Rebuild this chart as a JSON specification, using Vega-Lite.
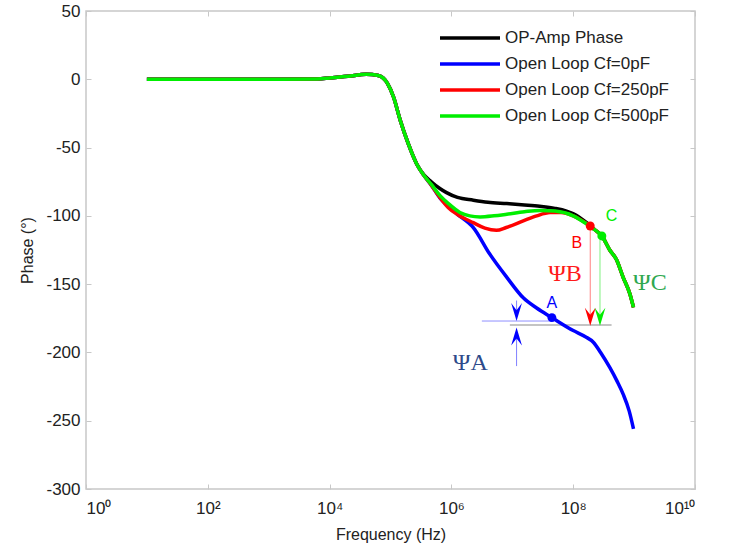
{
  "$schema": "https://vega.github.io/schema/vega-lite/v6.json",
  "width": 609,
  "height": 478,
  "autosize": {"type": "none"},
  "padding": {"left": 86, "top": 11, "right": 46, "bottom": 61},
  "background": "white",
  "config": {
    "font": "Liberation Sans",
    "view": {"stroke": "#c8c8c8", "strokeWidth": 1.5},
    "axis": {
      "grid": false,
      "domainColor": "#c8c8c8",
      "domainWidth": 1.5,
      "tickColor": "#c8c8c8",
      "tickWidth": 1,
      "tickSize": -5,
      "labelFont": "Liberation Sans",
      "labelFontSize": 17,
      "labelColor": "#222222",
      "titleFont": "Liberation Sans",
      "titleFontSize": 16,
      "titleFontWeight": "normal",
      "titleColor": "#222222"
    }
  },
  "datasets": {
    "curves": [
      {"series": "OP-Amp Phase", "f": 10, "phase": 0},
      {"series": "OP-Amp Phase", "f": 100, "phase": 0},
      {"series": "OP-Amp Phase", "f": 1000, "phase": 0},
      {"series": "OP-Amp Phase", "f": 6310, "phase": 0.3},
      {"series": "OP-Amp Phase", "f": 10000, "phase": 1},
      {"series": "OP-Amp Phase", "f": 19950, "phase": 2.2},
      {"series": "OP-Amp Phase", "f": 39810, "phase": 3.7},
      {"series": "OP-Amp Phase", "f": 63100, "phase": 2.8},
      {"series": "OP-Amp Phase", "f": 89130, "phase": -3},
      {"series": "OP-Amp Phase", "f": 112200, "phase": -13},
      {"series": "OP-Amp Phase", "f": 144500, "phase": -30},
      {"series": "OP-Amp Phase", "f": 195000, "phase": -47},
      {"series": "OP-Amp Phase", "f": 269200, "phase": -62},
      {"series": "OP-Amp Phase", "f": 354800, "phase": -70},
      {"series": "OP-Amp Phase", "f": 467700, "phase": -75},
      {"series": "OP-Amp Phase", "f": 645700, "phase": -80},
      {"series": "OP-Amp Phase", "f": 831800, "phase": -83},
      {"series": "OP-Amp Phase", "f": 1259000, "phase": -86.5},
      {"series": "OP-Amp Phase", "f": 2291000, "phase": -88.5},
      {"series": "OP-Amp Phase", "f": 3981000, "phase": -90},
      {"series": "OP-Amp Phase", "f": 8128000, "phase": -91},
      {"series": "OP-Amp Phase", "f": 15850000, "phase": -92},
      {"series": "OP-Amp Phase", "f": 28180000, "phase": -93},
      {"series": "OP-Amp Phase", "f": 50120000, "phase": -94.5},
      {"series": "OP-Amp Phase", "f": 77620000, "phase": -96.5},
      {"series": "OP-Amp Phase", "f": 112200000, "phase": -99.5},
      {"series": "OP-Amp Phase", "f": 166000000, "phase": -105},
      {"series": "OP-Amp Phase", "f": 223900000, "phase": -110},
      {"series": "OP-Amp Phase", "f": 295100000, "phase": -114.7},
      {"series": "OP-Amp Phase", "f": 398100000, "phase": -125},
      {"series": "OP-Amp Phase", "f": 512900000, "phase": -132},
      {"series": "OP-Amp Phase", "f": 660700000, "phase": -145},
      {"series": "OP-Amp Phase", "f": 851100000, "phase": -157},
      {"series": "OP-Amp Phase", "f": 977200000, "phase": -167},

      {"series": "Open Loop Cf=0pF", "f": 10, "phase": 0},
      {"series": "Open Loop Cf=0pF", "f": 100, "phase": 0},
      {"series": "Open Loop Cf=0pF", "f": 1000, "phase": 0},
      {"series": "Open Loop Cf=0pF", "f": 6310, "phase": 0.3},
      {"series": "Open Loop Cf=0pF", "f": 10000, "phase": 1},
      {"series": "Open Loop Cf=0pF", "f": 19950, "phase": 2.2},
      {"series": "Open Loop Cf=0pF", "f": 39810, "phase": 3.7},
      {"series": "Open Loop Cf=0pF", "f": 63100, "phase": 2.8},
      {"series": "Open Loop Cf=0pF", "f": 89130, "phase": -3},
      {"series": "Open Loop Cf=0pF", "f": 112200, "phase": -13},
      {"series": "Open Loop Cf=0pF", "f": 144500, "phase": -30},
      {"series": "Open Loop Cf=0pF", "f": 195000, "phase": -47},
      {"series": "Open Loop Cf=0pF", "f": 269200, "phase": -62},
      {"series": "Open Loop Cf=0pF", "f": 354800, "phase": -70.5},
      {"series": "Open Loop Cf=0pF", "f": 467700, "phase": -77.5},
      {"series": "Open Loop Cf=0pF", "f": 645700, "phase": -86.8},
      {"series": "Open Loop Cf=0pF", "f": 891300, "phase": -93},
      {"series": "Open Loop Cf=0pF", "f": 1230000, "phase": -98.5},
      {"series": "Open Loop Cf=0pF", "f": 2291000, "phase": -108.6},
      {"series": "Open Loop Cf=0pF", "f": 4266000, "phase": -128},
      {"series": "Open Loop Cf=0pF", "f": 8128000, "phase": -145},
      {"series": "Open Loop Cf=0pF", "f": 15140000, "phase": -160},
      {"series": "Open Loop Cf=0pF", "f": 25120000, "phase": -167.5},
      {"series": "Open Loop Cf=0pF", "f": 44670000, "phase": -174.5},
      {"series": "Open Loop Cf=0pF", "f": 100000000, "phase": -184},
      {"series": "Open Loop Cf=0pF", "f": 158500000, "phase": -188.5},
      {"series": "Open Loop Cf=0pF", "f": 213800000, "phase": -192.5},
      {"series": "Open Loop Cf=0pF", "f": 281800000, "phase": -200},
      {"series": "Open Loop Cf=0pF", "f": 398100000, "phase": -211},
      {"series": "Open Loop Cf=0pF", "f": 524800000, "phase": -221},
      {"series": "Open Loop Cf=0pF", "f": 660700000, "phase": -230.5},
      {"series": "Open Loop Cf=0pF", "f": 831800000, "phase": -243},
      {"series": "Open Loop Cf=0pF", "f": 977200000, "phase": -256},

      {"series": "Open Loop Cf=250pF", "f": 10, "phase": 0},
      {"series": "Open Loop Cf=250pF", "f": 100, "phase": 0},
      {"series": "Open Loop Cf=250pF", "f": 1000, "phase": 0},
      {"series": "Open Loop Cf=250pF", "f": 6310, "phase": 0.3},
      {"series": "Open Loop Cf=250pF", "f": 10000, "phase": 1},
      {"series": "Open Loop Cf=250pF", "f": 19950, "phase": 2.2},
      {"series": "Open Loop Cf=250pF", "f": 39810, "phase": 3.7},
      {"series": "Open Loop Cf=250pF", "f": 63100, "phase": 2.8},
      {"series": "Open Loop Cf=250pF", "f": 89130, "phase": -3},
      {"series": "Open Loop Cf=250pF", "f": 112200, "phase": -13},
      {"series": "Open Loop Cf=250pF", "f": 144500, "phase": -30},
      {"series": "Open Loop Cf=250pF", "f": 195000, "phase": -47},
      {"series": "Open Loop Cf=250pF", "f": 269200, "phase": -62},
      {"series": "Open Loop Cf=250pF", "f": 354800, "phase": -70.5},
      {"series": "Open Loop Cf=250pF", "f": 467700, "phase": -77.5},
      {"series": "Open Loop Cf=250pF", "f": 645700, "phase": -86.5},
      {"series": "Open Loop Cf=250pF", "f": 891300, "phase": -94},
      {"series": "Open Loop Cf=250pF", "f": 1259000, "phase": -99},
      {"series": "Open Loop Cf=250pF", "f": 2291000, "phase": -105},
      {"series": "Open Loop Cf=250pF", "f": 3548000, "phase": -109},
      {"series": "Open Loop Cf=250pF", "f": 5495000, "phase": -110.6},
      {"series": "Open Loop Cf=250pF", "f": 7943000, "phase": -108.5},
      {"series": "Open Loop Cf=250pF", "f": 15140000, "phase": -103.7},
      {"series": "Open Loop Cf=250pF", "f": 25120000, "phase": -100},
      {"series": "Open Loop Cf=250pF", "f": 41690000, "phase": -97.6},
      {"series": "Open Loop Cf=250pF", "f": 63100000, "phase": -97.5},
      {"series": "Open Loop Cf=250pF", "f": 100000000, "phase": -100},
      {"series": "Open Loop Cf=250pF", "f": 141300000, "phase": -103.5},
      {"series": "Open Loop Cf=250pF", "f": 190500000, "phase": -107.4},
      {"series": "Open Loop Cf=250pF", "f": 223900000, "phase": -110},
      {"series": "Open Loop Cf=250pF", "f": 295100000, "phase": -114.7},
      {"series": "Open Loop Cf=250pF", "f": 398100000, "phase": -125},
      {"series": "Open Loop Cf=250pF", "f": 512900000, "phase": -132},
      {"series": "Open Loop Cf=250pF", "f": 660700000, "phase": -145},
      {"series": "Open Loop Cf=250pF", "f": 851100000, "phase": -157},
      {"series": "Open Loop Cf=250pF", "f": 977200000, "phase": -167},

      {"series": "Open Loop Cf=500pF", "f": 10, "phase": 0},
      {"series": "Open Loop Cf=500pF", "f": 100, "phase": 0},
      {"series": "Open Loop Cf=500pF", "f": 1000, "phase": 0},
      {"series": "Open Loop Cf=500pF", "f": 6310, "phase": 0.3},
      {"series": "Open Loop Cf=500pF", "f": 10000, "phase": 1},
      {"series": "Open Loop Cf=500pF", "f": 19950, "phase": 2.2},
      {"series": "Open Loop Cf=500pF", "f": 39810, "phase": 3.7},
      {"series": "Open Loop Cf=500pF", "f": 63100, "phase": 2.8},
      {"series": "Open Loop Cf=500pF", "f": 89130, "phase": -3},
      {"series": "Open Loop Cf=500pF", "f": 112200, "phase": -13},
      {"series": "Open Loop Cf=500pF", "f": 144500, "phase": -30},
      {"series": "Open Loop Cf=500pF", "f": 195000, "phase": -47},
      {"series": "Open Loop Cf=500pF", "f": 269200, "phase": -62},
      {"series": "Open Loop Cf=500pF", "f": 354800, "phase": -70.5},
      {"series": "Open Loop Cf=500pF", "f": 467700, "phase": -77},
      {"series": "Open Loop Cf=500pF", "f": 645700, "phase": -85},
      {"series": "Open Loop Cf=500pF", "f": 891300, "phase": -91},
      {"series": "Open Loop Cf=500pF", "f": 1380000, "phase": -97.5},
      {"series": "Open Loop Cf=500pF", "f": 1995000, "phase": -100},
      {"series": "Open Loop Cf=500pF", "f": 2951000, "phase": -100.8},
      {"series": "Open Loop Cf=500pF", "f": 5012000, "phase": -100},
      {"series": "Open Loop Cf=500pF", "f": 8128000, "phase": -98.8},
      {"series": "Open Loop Cf=500pF", "f": 15850000, "phase": -97},
      {"series": "Open Loop Cf=500pF", "f": 28180000, "phase": -96},
      {"series": "Open Loop Cf=500pF", "f": 50120000, "phase": -96.5},
      {"series": "Open Loop Cf=500pF", "f": 100000000, "phase": -100},
      {"series": "Open Loop Cf=500pF", "f": 166000000, "phase": -106},
      {"series": "Open Loop Cf=500pF", "f": 223900000, "phase": -110},
      {"series": "Open Loop Cf=500pF", "f": 295100000, "phase": -114.7},
      {"series": "Open Loop Cf=500pF", "f": 398100000, "phase": -125},
      {"series": "Open Loop Cf=500pF", "f": 512900000, "phase": -132},
      {"series": "Open Loop Cf=500pF", "f": 660700000, "phase": -145},
      {"series": "Open Loop Cf=500pF", "f": 851100000, "phase": -157},
      {"series": "Open Loop Cf=500pF", "f": 977200000, "phase": -167}
    ],
    "hlines": [
      {"kind": "ref", "f1": 9120000, "f2": 426600000, "phase": -180},
      {"kind": "psiA", "f1": 3162000, "f2": 44670000, "phase": -177}
    ],
    "vlines": [
      {"kind": "B", "f": 190500000, "p1": -107.4, "p2": -178},
      {"kind": "C", "f": 275400000, "p1": -114.7, "p2": -178},
      {"kind": "Aup", "f": 11750000, "p1": -162, "p2": -174},
      {"kind": "Alow", "f": 11750000, "p1": -184, "p2": -210}
    ],
    "heads": [
      {"kind": "B", "f": 190500000, "phase": -173.8, "dir": "down"},
      {"kind": "C", "f": 275400000, "phase": -173.8, "dir": "down"},
      {"kind": "Aup", "f": 11750000, "phase": -170.4, "dir": "down"},
      {"kind": "Alow", "f": 11750000, "phase": -188.4, "dir": "up"}
    ],
    "dots": [
      {"kind": "A", "f": 44670000, "phase": -174.5},
      {"kind": "B", "f": 190500000, "phase": -107.4},
      {"kind": "C", "f": 295100000, "phase": -114.7}
    ],
    "labels": [
      {"kind": "A", "f": 44670000, "phase": -163.5, "text": "A"},
      {"kind": "B", "f": 114800000, "phase": -119.6, "text": "B"},
      {"kind": "C", "f": 426600000, "phase": -100, "text": "C"}
    ],
    "psis": [
      {"kind": "A", "f": 2042000, "phase": -207.5, "text": "ΨA"},
      {"kind": "B", "f": 73300000, "phase": -142.8, "text": "ΨB"},
      {"kind": "C", "f": 1820000000, "phase": -148.9, "text": "ΨC"}
    ]
  },
  "resolve": {
    "axis": {"x": "independent", "y": "independent"},
    "scale": {"color": "independent", "size": "independent", "shape": "independent", "strokeWidth": "independent"},
    "legend": {"color": "independent"}
  },
  "layer": [
    {
      "data": {"name": "hlines"},
      "mark": {"type": "rule"},
      "encoding": {
        "x": {"field": "f1", "type": "quantitative", "scale": {"type": "log", "domain": [1, 10000000000], "nice": false},
              "axis": {"orient": "top", "values": [1, 100, 10000, 1000000, 100000000, 10000000000], "labels": false, "title": null, "domain": false}},
        "x2": {"field": "f2"},
        "y": {"field": "phase", "type": "quantitative", "scale": {"domain": [-300, 50], "nice": false},
              "axis": {"orient": "right", "values": [-300, -250, -200, -150, -100, -50, 0, 50], "labels": false, "title": null, "domain": false}},
        "color": {"field": "kind", "type": "nominal", "scale": {"domain": ["ref", "psiA"], "range": ["#b0b0b0", "#8f8fff"]}, "legend": null},
        "strokeWidth": {"field": "kind", "type": "nominal", "scale": {"domain": ["ref", "psiA"], "range": [1.5, 1]}, "legend": null}
      }
    },
    {
      "data": {"name": "vlines"},
      "mark": {"type": "rule", "strokeWidth": 1},
      "encoding": {
        "x": {"field": "f", "type": "quantitative", "axis": null},
        "y": {"field": "p1", "type": "quantitative", "axis": null},
        "y2": {"field": "p2"},
        "color": {"field": "kind", "type": "nominal", "scale": {"domain": ["B", "C", "Aup", "Alow"], "range": ["#ff8080", "#80f080", "#8080ff", "#8080ff"]}, "legend": null}
      }
    },
    {
      "data": {"name": "curves"},
      "mark": {"type": "line", "strokeWidth": 3.5, "interpolate": "monotone"},
      "encoding": {
        "x": {"field": "f", "type": "quantitative",
              "axis": {"orient": "bottom", "values": [1, 100, 10000, 1000000, 100000000, 10000000000],
                       "labelExpr": "{'1':'10⁰','100':'10²','10000':'10⁴','1000000':'10⁶','100000000':'10⁸','10000000000':'10¹⁰'}[''+datum.value]",
                       "title": "Frequency (Hz)", "labelPadding": 16, "titlePadding": 10, "domain": false}},
        "y": {"field": "phase", "type": "quantitative",
              "axis": {"orient": "left", "values": [-300, -250, -200, -150, -100, -50, 0, 50],
                       "labelExpr": "'' + datum.value",
                       "title": "Phase (°)", "labelPadding": 11, "titlePadding": 10, "domain": false}},
        "color": {"field": "series", "type": "nominal",
                  "scale": {"domain": ["OP-Amp Phase", "Open Loop Cf=0pF", "Open Loop Cf=250pF", "Open Loop Cf=500pF"],
                            "range": ["#000000", "#0000ff", "#ff0000", "#00ee00"]},
                  "legend": {"orient": "none", "legendX": 352, "legendY": 17, "title": null, "symbolType": "stroke",
                             "symbolSize": 3600, "symbolStrokeWidth": 3.5, "labelFontSize": 17, "labelColor": "#222222",
                             "labelOffset": 3, "rowPadding": 6, "clipHeight": 20, "labelLimit": 400, "labelFont": "Liberation Sans"}}
      }
    },
    {
      "data": {"name": "heads"},
      "mark": {"type": "point", "filled": true, "opacity": 1},
      "encoding": {
        "x": {"field": "f", "type": "quantitative", "axis": null},
        "y": {"field": "phase", "type": "quantitative", "axis": null},
        "shape": {"field": "dir", "type": "nominal", "scale": {"domain": ["down", "up"], "range": ["M-0.6,-1L0,1L0.6,-1L0,-0.2Z", "M-0.6,1L0,-1L0.6,1L0,0.2Z"]}, "legend": null},
        "size": {"field": "kind", "type": "nominal", "scale": {"domain": ["B", "C", "Aup", "Alow"], "range": [324, 324, 196, 196]}, "legend": null},
        "color": {"field": "kind", "type": "nominal", "scale": {"domain": ["B", "C", "Aup", "Alow"], "range": ["#ff0000", "#00ee00", "#0000ff", "#0000ff"]}, "legend": null}
      }
    },
    {
      "data": {"name": "dots"},
      "mark": {"type": "circle", "opacity": 1, "size": 80},
      "encoding": {
        "x": {"field": "f", "type": "quantitative", "axis": null},
        "y": {"field": "phase", "type": "quantitative", "axis": null},
        "color": {"field": "kind", "type": "nominal", "scale": {"domain": ["A", "B", "C"], "range": ["#0000ff", "#ff0000", "#00ee00"]}, "legend": null}
      }
    },
    {
      "data": {"name": "labels"},
      "mark": {"type": "text", "fontSize": 16, "font": "Liberation Sans"},
      "encoding": {
        "x": {"field": "f", "type": "quantitative", "axis": null},
        "y": {"field": "phase", "type": "quantitative", "axis": null},
        "text": {"field": "text"},
        "color": {"field": "kind", "type": "nominal", "scale": {"domain": ["A", "B", "C"], "range": ["#0000ff", "#ff0000", "#00ee00"]}, "legend": null}
      }
    },
    {
      "data": {"name": "psis"},
      "mark": {"type": "text", "fontSize": 24, "font": "Liberation Serif"},
      "encoding": {
        "x": {"field": "f", "type": "quantitative", "axis": null},
        "y": {"field": "phase", "type": "quantitative", "axis": null},
        "text": {"field": "text"},
        "color": {"field": "kind", "type": "nominal", "scale": {"domain": ["A", "B", "C"], "range": ["#2d4a8a", "#ff1a1a", "#2fa84f"]}, "legend": null}
      }
    }
  ]
}
